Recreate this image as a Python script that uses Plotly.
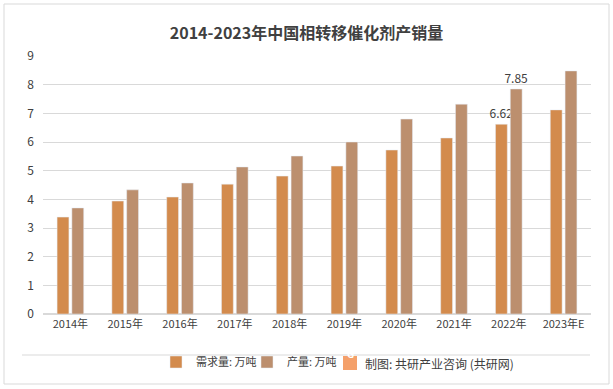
import plotly.graph_objects as go

categories = ["2014年", "2015年", "2016年", "2017年", "2018年", "2019年", "2020年", "2021年", "2022年", "2023年E"]
demand = [3.38, 3.94, 4.08, 4.53, 4.81, 5.16, 5.72, 6.14, 6.62, 7.12]
production = [3.70, 4.33, 4.57, 5.13, 5.51, 6.00, 6.80, 7.32, 7.85, 8.48]
demand_labels = ["", "", "", "", "", "", "", "", "6.62", ""]
production_labels = ["", "", "", "", "", "", "", "", "7.85", ""]

FONT = "Noto Sans CJK SC"
W, H = 613, 389
L, R, T, B = 43, 22, 56, 75
pw, ph = W - L - R, H - T - B

def px(x):
    return (x - L) / pw

def py(y):
    return (H - B - y) / ph

fig = go.Figure()
fig.add_trace(go.Bar(
    x=categories, y=demand, name="需求量: 万吨",
    marker_color="#D38B4D", text=demand_labels, textposition="outside",
    textfont=dict(family=FONT, size=12, color="#404040"), cliponaxis=False,
    constraintext="none",
))
fig.add_trace(go.Bar(
    x=categories, y=production, name="产量: 万吨",
    marker_color="#BC8F6E", text=production_labels, textposition="outside",
    textfont=dict(family=FONT, size=12, color="#404040"), cliponaxis=False,
    constraintext="none",
))

fig.update_layout(
    width=W, height=H,
    margin=dict(l=L, r=R, t=T, b=B, autoexpand=False),
    paper_bgcolor="white", plot_bgcolor="white",
    barmode="group", bargap=0.46, bargroupgap=0.2,
    title=dict(text="<b>2014-2023年中国相转移催化剂产销量</b>", x=0.5, xanchor="center",
               y=1 - 33 / H, yanchor="middle",
               font=dict(family=FONT, size=16, color="#404040")),
    font=dict(family=FONT, color="#595959"),
    xaxis=dict(showgrid=False, showline=True, linecolor="#D9D9D9", ticks="",
               tickfont=dict(family=FONT, size=11, color="#404040")),
    yaxis=dict(range=[0, 9], dtick=1, showgrid=True, gridcolor="#D9D9D9", gridwidth=1,
               zeroline=True, zerolinecolor="#D9D9D9", ticks="",
               tickfont=dict(family=FONT, size=12, color="#404040"), ticklabelstandoff=8),
    legend=dict(orientation="h", x=px(156), xanchor="left", y=py(362), yanchor="middle",
                font=dict(family=FONT, size=11, color="#404040"),
                itemwidth=30, entrywidth=46, entrywidthmode="pixels",
                tracegroupgap=0, bgcolor="rgba(0,0,0,0)"),
    showlegend=True,
)

shapes = [
    dict(type="rect", xref="paper", yref="paper", x0=px(4), x1=px(609), y0=py(384), y1=py(4),
         line=dict(color="#D9D9D9", width=1), fillcolor="rgba(0,0,0,0)", layer="below"),
    dict(type="line", xref="paper", yref="paper", x0=px(22), x1=px(590), y0=py(355), y1=py(355),
         line=dict(color="#D9D9D9", width=1)),
    dict(type="rect", xref="paper", yref="paper", x0=px(343), x1=px(357), y0=py(370), y1=py(356),
         line=dict(width=0), fillcolor="#F4A06A"),
]
fig.update_layout(shapes=shapes)

fig.add_annotation(xref="paper", yref="paper", x=px(350), y=py(363), text="<b>G</b>",
                   showarrow=False, font=dict(family=FONT, size=10, color="white"))
fig.add_annotation(xref="paper", yref="paper", x=px(363), y=py(363), xanchor="left", yanchor="middle",
                   text="制图: 共研产业咨询 (共研网)", showarrow=False,
                   font=dict(family=FONT, size=12, color="#404040"))

fig.write_html("out.html", config={"displayModeBar": False},
               post_script="document.body.style.margin='0';")
